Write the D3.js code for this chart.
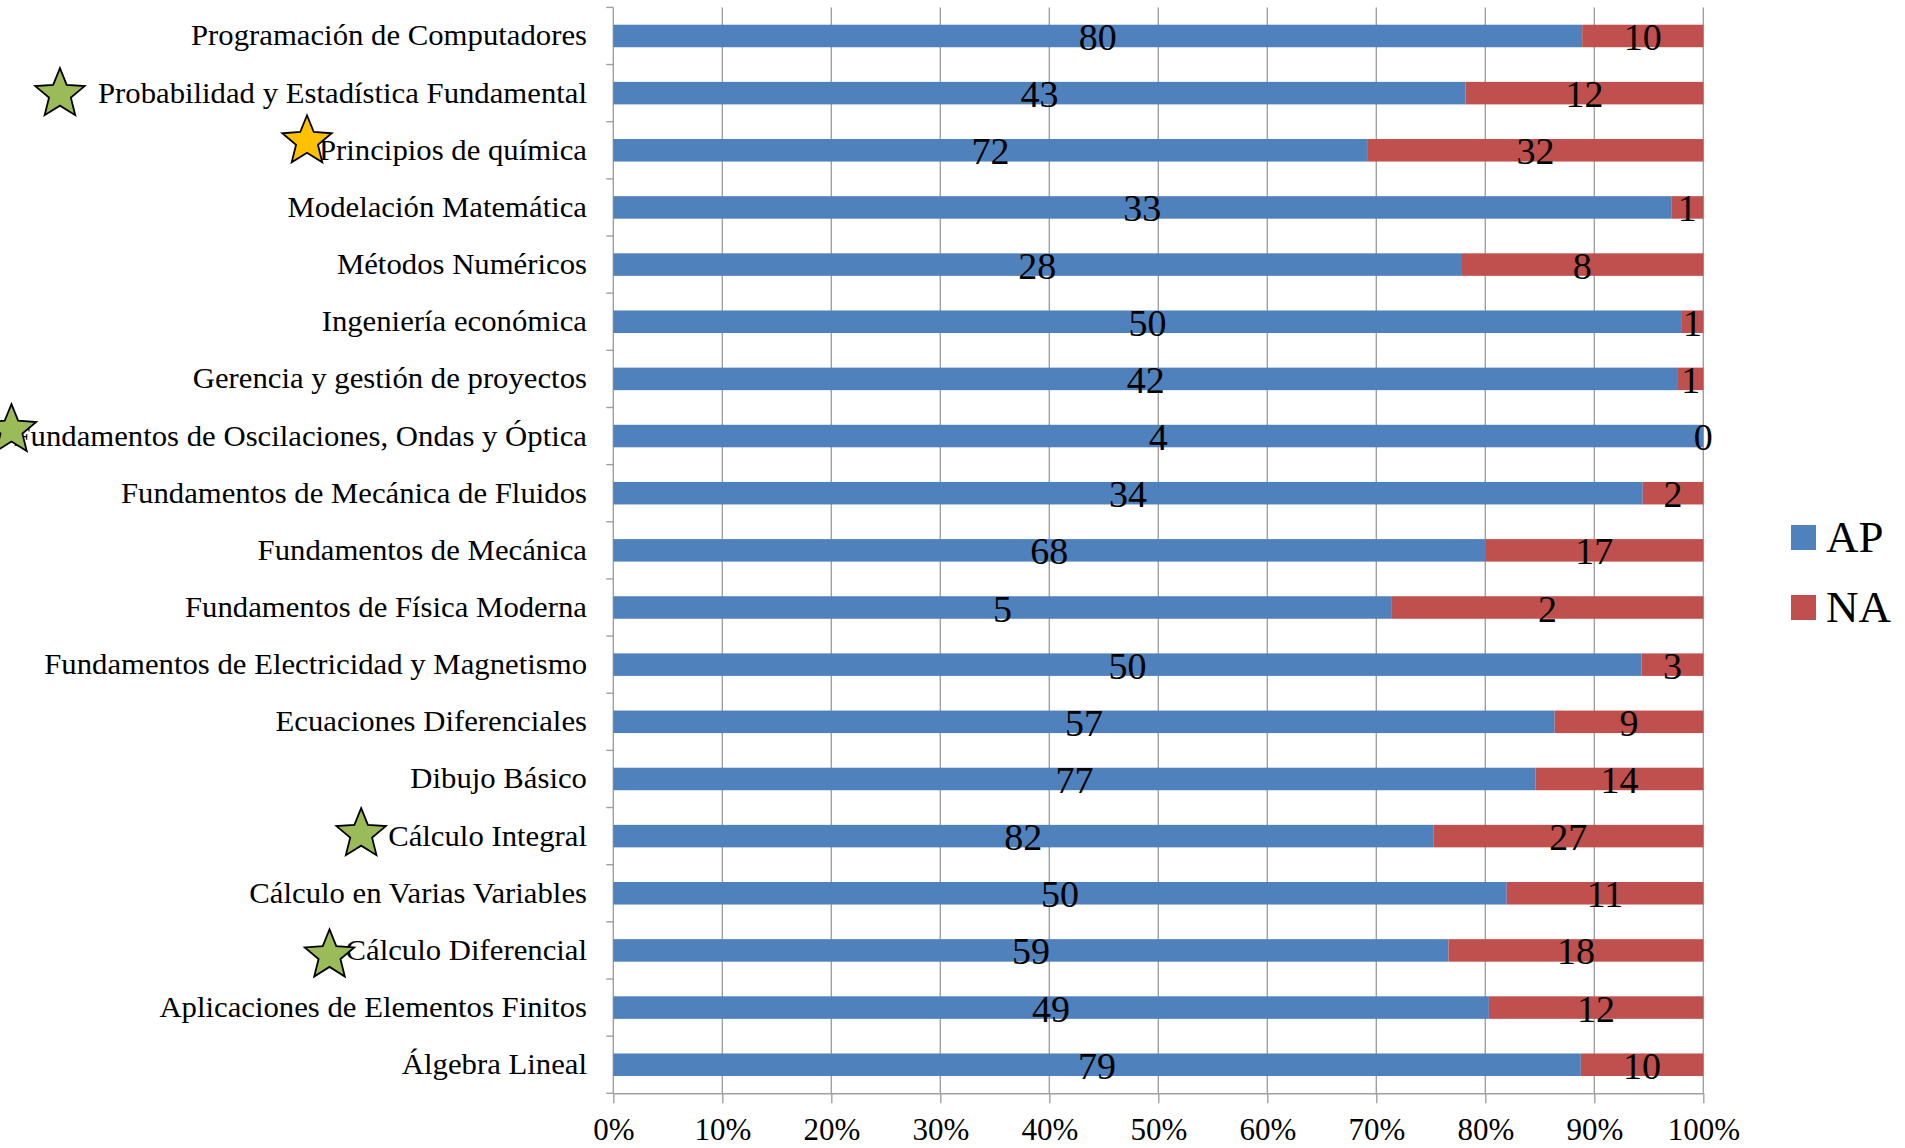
<!DOCTYPE html>
<html>
<head>
<meta charset="utf-8">
<script src="https://cdn.jsdelivr.net/npm/d3@7"></script>
<style>
  html, body { margin: 0; padding: 0; background: #fff; }
  svg { display: block; }
  text { font-family: "Liberation Serif", "Times New Roman", serif; fill: #000; }
</style>
</head>
<body>
<svg id="chart" width="1905" height="1148"></svg>
<script>
const categories = [
  "Programación de Computadores",
  "Probabilidad y Estadística Fundamental",
  "Principios de química",
  "Modelación Matemática",
  "Métodos Numéricos",
  "Ingeniería económica",
  "Gerencia y gestión de proyectos",
  "Fundamentos de Oscilaciones, Ondas y Óptica",
  "Fundamentos de Mecánica de Fluidos",
  "Fundamentos de Mecánica",
  "Fundamentos de Física Moderna",
  "Fundamentos de Electricidad y Magnetismo",
  "Ecuaciones Diferenciales",
  "Dibujo Básico",
  "Cálculo Integral",
  "Cálculo en Varias Variables",
  "Cálculo Diferencial",
  "Aplicaciones de Elementos Finitos",
  "Álgebra Lineal"
];
const apValues = [80, 43, 72, 33, 28, 50, 42, 4, 34, 68, 5, 50, 57, 77, 82, 50, 59, 49, 79];
const naValues = [10, 12, 32, 1, 8, 1, 1, 0, 2, 17, 2, 3, 9, 14, 27, 11, 18, 12, 10];
const seriesNames = ["AP", "NA"];
const tickValues = [0, 0.1, 0.2, 0.3, 0.4, 0.5, 0.6, 0.7, 0.8, 0.9, 1.0];
const tickLabels = ["0%", "10%", "20%", "30%", "40%", "50%", "60%", "70%", "80%", "90%", "100%"];
// Star annotations beside some course names
const starredCategories = ["Probabilidad y Estadística Fundamental", "Principios de química",
  "Fundamentos de Oscilaciones, Ondas y Óptica", "Cálculo Integral", "Cálculo Diferencial"];
const starKinds = ["green", "gold", "green", "green", "green"];

// ---- layout / style ----
const colors = { AP: "#4F81BD", NA: "#C0504D" };
const starFill = { green: "#9BBB59", gold: "#FFC000" };
const starOffset = [[-38, 1], [-12, -9], [-2, -6], [-27, -2], [-16, 5]];
const plot = { left: 613.3, right: 1703.3, top: 7.4, bottom: 1093.3 };
const gridColor = "#A0A0A0";

const svg = d3.select("#chart");

const x = d3.scaleLinear().domain([0, 1]).range([plot.left, plot.right]);
const y = d3.scaleBand().domain(categories).range([plot.top, plot.bottom])
  .paddingInner(0.606).paddingOuter(0.303);

const rows = categories.map((c, i) => {
  const total = apValues[i] + naValues[i];
  return { cat: c, ap: apValues[i], na: naValues[i], apShare: apValues[i] / total };
});

// gridlines
svg.append("g").selectAll("line").data(tickValues.slice(1)).join("line")
  .attr("x1", d => x(d)).attr("x2", d => x(d))
  .attr("y1", plot.top).attr("y2", plot.bottom)
  .attr("stroke", gridColor).attr("stroke-width", 1.4);

// bottom axis
const xAxis = d3.axisBottom(x).tickValues(tickValues).tickFormat((d, i) => tickLabels[i])
  .tickSizeInner(10).tickSizeOuter(0).tickPadding(18);
const gx = svg.append("g").attr("transform", `translate(0,${plot.bottom})`).call(xAxis);
gx.select(".domain").attr("stroke", gridColor).attr("stroke-width", 1.4);
gx.selectAll(".tick line").attr("stroke", gridColor).attr("stroke-width", 1.4);
gx.selectAll(".tick text").attr("font-size", 31).attr("font-family", "Liberation Serif")
  .attr("fill", "#000").attr("dy", "0.6em");

// left axis line with ticks at category boundaries
svg.append("line").attr("x1", plot.left).attr("x2", plot.left)
  .attr("y1", plot.top).attr("y2", plot.bottom)
  .attr("stroke", gridColor).attr("stroke-width", 1.4);
const step = y.step();
svg.append("g").selectAll("line").data(d3.range(categories.length + 1)).join("line")
  .attr("x1", plot.left - 7).attr("x2", plot.left)
  .attr("y1", i => plot.top + i * step).attr("y2", i => plot.top + i * step)
  .attr("stroke", gridColor).attr("stroke-width", 1.4);

// bars
const barG = svg.append("g");
barG.selectAll("rect.ap").data(rows).join("rect").attr("class", "ap")
  .attr("x", x(0)).attr("y", d => y(d.cat))
  .attr("width", d => x(d.apShare) - x(0)).attr("height", y.bandwidth())
  .attr("fill", colors.AP);
barG.selectAll("rect.na").data(rows).join("rect").attr("class", "na")
  .attr("x", d => x(d.apShare)).attr("y", d => y(d.cat))
  .attr("width", d => x(1) - x(d.apShare)).attr("height", y.bandwidth())
  .attr("fill", colors.NA);

// data labels
const lblG = svg.append("g").attr("font-size", 38).attr("text-anchor", "middle");
lblG.selectAll("text.apl").data(rows).join("text").attr("class", "apl")
  .attr("x", d => (x(0) + x(d.apShare)) / 2)
  .attr("y", d => y(d.cat) + y.bandwidth() / 2 + 14)
  .text(d => d.ap);
lblG.selectAll("text.nal").data(rows).join("text").attr("class", "nal")
  .attr("x", d => (x(d.apShare) + x(1)) / 2)
  .attr("y", d => y(d.cat) + y.bandwidth() / 2 + 14)
  .text(d => d.na);

// category labels
const labelScale = 1.06;
const catG = svg.append("g").attr("transform", `translate(587,0) scale(${labelScale},1)`);
const catTexts = catG.selectAll("text").data(categories).join("text")
  .attr("x", 0).attr("y", d => y(d) + y.bandwidth() / 2 + 9.5)
  .attr("text-anchor", "end").attr("font-size", 29)
  .text(d => d);

// stars
function starPath(R, r) {
  const pts = [];
  for (let k = 0; k < 10; k++) {
    const a = -Math.PI / 2 + k * Math.PI / 5;
    const rad = k % 2 === 0 ? R : r;
    pts.push([Math.cos(a) * rad, Math.sin(a) * rad]);
  }
  return d3.line()(pts) + "Z";
}
const starG = svg.append("g");
starredCategories.forEach((cat, i) => {
  const node = catTexts.filter(d => d === cat).node();
  const len = node.getComputedTextLength() * labelScale;
  const left = 587 - len;
  const cx = left + starOffset[i][0];
  const cy = y(cat) + y.bandwidth() / 2 + starOffset[i][1];
  starG.append("path")
    .attr("d", starPath(26, 11.5))
    .attr("transform", `translate(${cx},${cy})`)
    .attr("fill", starFill[starKinds[i]])
    .attr("stroke", "#000").attr("stroke-width", 1.8)
    .attr("stroke-linejoin", "miter");
});

// legend
const legend = svg.append("g");
seriesNames.forEach((s, i) => {
  legend.append("rect").attr("x", 1791).attr("y", 525 + i * 70)
    .attr("width", 25).attr("height", 25).attr("fill", colors[s]);
  legend.append("text").attr("x", 1826).attr("y", 551.5 + i * 70)
    .attr("font-size", 45).text(s);
});
</script>
</body>
</html>
